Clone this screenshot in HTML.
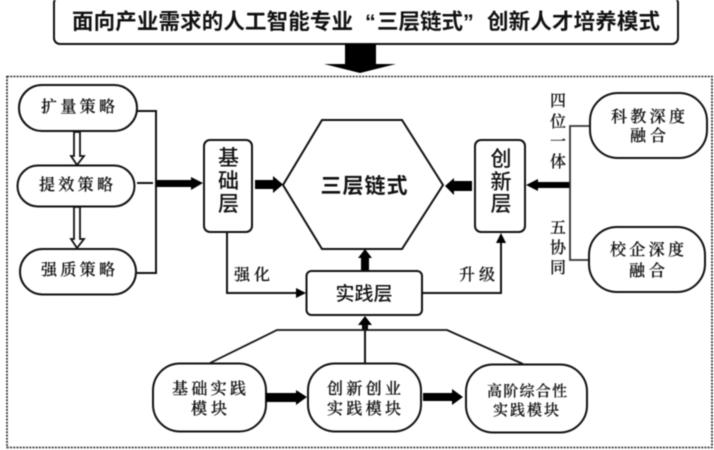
<!DOCTYPE html>
<html><head><meta charset="utf-8">
<style>
html,body{margin:0;padding:0;background:#fff;width:714px;height:450px;overflow:hidden}
svg{display:block;filter:blur(0.45px)}
.k{font-family:"Liberation Serif","Noto Serif CJK SC",serif;font-size:16px;fill:#111;stroke:#111;stroke-width:.25;text-anchor:middle;font-weight:500}
.h{font-family:"Liberation Sans","Noto Sans CJK SC",sans-serif;fill:#111;text-anchor:middle;font-weight:700}
.t{font-family:"Liberation Sans","Noto Sans CJK SC",sans-serif;fill:#111;font-weight:700;font-size:21.500px}
.m{font-family:"Liberation Sans","Noto Sans CJK SC",sans-serif;fill:#111;text-anchor:middle;font-weight:500}
.b{fill:#fff;stroke:#111;stroke-width:2}
.l{fill:none;stroke:#111;stroke-width:2}
</style></head><body>
<svg width="714" height="450" viewBox="0 0 714 450" xmlns="http://www.w3.org/2000/svg">
<rect x="54" y="-3" width="624" height="47" rx="6" class="b"/>
<text x="72" y="29" class="t" textLength="281">面向产业需求的人工智能专业</text>
<text x="365" y="29" class="t" font-family="Liberation Serif">“</text>
<text x="377" y="29" class="t" textLength="86">三层链式</text>
<text x="463" y="29" class="t" font-family="Liberation Serif">”</text>
<text x="487" y="29" class="t" textLength="173">创新人才培养模式</text>
<polygon points="345,44 376,44 376,64 396,64 360,73 324,64 345,64" fill="#000"/>
<rect x="7" y="76.500" width="705" height="371" fill="none" stroke="#222" stroke-width="1.600" stroke-dasharray="2 1.200"/>

<rect x="19" y="85" width="118" height="46" rx="23" class="b"/>
<rect x="17.500" y="165.500" width="117" height="41" rx="20.500" class="b"/>
<rect x="20" y="249" width="116" height="45.500" rx="22.700" class="b"/>
<text x="78" y="112" class="k" textLength="74">扩量策略</text>
<text x="76" y="190" class="k" textLength="74">提效策略</text>
<text x="78" y="275" class="k" textLength="74">强质策略</text>

<polygon points="74,132 80,132 80,156 84,156 77,165 71,156 74,156" fill="#fff" stroke="#111" stroke-width="1.800"/>
<polygon points="74,207 80,207 80,239 84,239 77,248 71,239 74,239" fill="#fff" stroke="#111" stroke-width="1.800"/>

<path d="M137 111H156V273H137" class="l"/>
<path d="M137 183H153" class="l"/>
<polygon points="157,180 191,180 191,177 203,183 191,190 191,187 157,187" fill="#000"/>

<rect x="204" y="140" width="48" height="92" rx="6" class="b"/>
<text class="m" font-size="21" x="228.500" y="165">基</text>
<text class="m" font-size="21" x="228.500" y="188">础</text>
<text class="m" font-size="21" x="228.500" y="211">层</text>
<polygon points="255,180 273,180 273,176 283,184.500 273,193 273,189 255,189" fill="#000"/>

<polygon points="322,120 402,120 443,185 402,249 322,249 283,185" class="b"/>
<text x="364" y="193" class="h" font-size="21" textLength="87">三层链式</text>

<rect x="475" y="140" width="50" height="92" rx="6" class="b"/>
<text class="m" font-size="21" x="501" y="166">创</text>
<text class="m" font-size="21" x="501" y="189">新</text>
<text class="m" font-size="21" x="501" y="211">层</text>
<polygon points="472,181 454,181 454,178 445,186 454,195 454,191 472,191" fill="#000"/>
<polygon points="570,182 538,182 538,179 526,185 538,191 538,188 570,188" fill="#000"/>
<path d="M590 126H570V260H588" fill="none" stroke="#333" stroke-width="1.800"/>

<text x="558" y="106" class="k">四</text>
<text x="558" y="127" class="k">位</text>
<text x="558" y="147" class="k">一</text>
<text x="558" y="167" class="k">体</text>
<text x="558" y="233" class="k">五</text>
<text x="558" y="253" class="k">协</text>
<text x="558" y="273" class="k">同</text>

<rect x="590" y="93" width="117" height="65" rx="28" class="b"/>
<rect x="589" y="227" width="116" height="65" rx="28" class="b"/>
<text x="648" y="122" class="k" textLength="74">科教深度</text>
<text x="648" y="141" class="k" textLength="36">融合</text>
<text x="647" y="255" class="k" textLength="74">校企深度</text>
<text x="647" y="276" class="k" textLength="36">融合</text>

<rect x="306.500" y="271" width="115.500" height="44" rx="5" class="b"/>
<text x="364" y="300" class="m" font-size="19" textLength="57">实践层</text>

<path d="M227 232V293H298" class="l"/>
<polygon points="296,288 306,293 296,298" fill="#000"/>
<text x="252" y="280" class="k" textLength="36">强化</text>
<path d="M422 293H501V240" class="l"/>
<polygon points="496,243 501,233 506,243" fill="#000"/>
<text x="477" y="280" class="k" textLength="36">升级</text>

<polygon points="361,270 361,258 358,258 365,249 372,258 369,258 369,270" fill="#000"/>
<polygon points="362,330 362,325 358,325 365,316 372,325 368,325 368,330" fill="#000"/>
<path d="M365 325V363" class="l"/>
<path d="M210 363L277 330H447L523 364" fill="none" stroke="#111" stroke-width="1.800"/>

<rect x="153" y="363.500" width="113" height="68" rx="27" class="b"/>
<rect x="308" y="363.500" width="113" height="68" rx="27" class="b"/>
<rect x="466" y="364.500" width="121" height="68" rx="27" class="b"/>
<text x="209" y="394" class="k" textLength="74">基础实践</text>
<text x="209" y="414" class="k" textLength="36">模块</text>
<text x="364" y="394" class="k" textLength="74">创新创业</text>
<text x="364" y="414" class="k" textLength="74">实践模块</text>
<text x="527" y="396" class="k" style="font-size:15px" textLength="80">高阶综合性</text>
<text x="526" y="415" class="k" style="font-size:15px" textLength="66">实践模块</text>

<polygon points="266,393 296,393 296,390 307,397 296,405 296,402 266,402" fill="#000"/>
<polygon points="423,393 452,393 452,389 463,397 452,405 452,401 423,401" fill="#000"/>
</svg>
</body></html>
